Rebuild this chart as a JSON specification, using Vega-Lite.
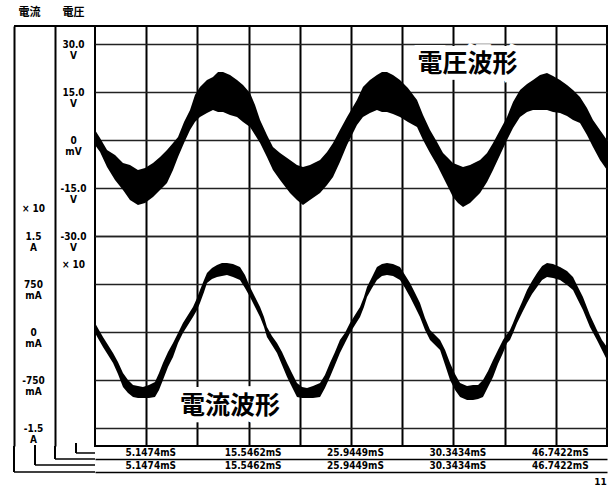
{
  "$schema": "https://vega.github.io/schema/vega-lite/v6.json",
  "width": 512,
  "height": 420,
  "autosize": "none",
  "padding": {"left": 95, "top": 26, "right": 3, "bottom": 42},
  "background": "white",
  "config": {
    "view": {"stroke": "#000", "strokeWidth": 2},
    "axis": {"labelColor": "#000", "titleColor": "#000", "labelFont": "Liberation Sans Narrow, DejaVu Sans Condensed, sans-serif", "labelFontWeight": "bold", "labelFontSize": 10}
  },
  "datasets": {
    "voltage": [
      {"t": -0.05, "hi": 3.13, "lo": -1.56},
      {"t": 0.46, "hi": 0.63, "lo": -3.75},
      {"t": 1.17, "hi": -3.13, "lo": -8.44},
      {"t": 1.98, "hi": -4.69, "lo": -12.5},
      {"t": 2.79, "hi": -7.19, "lo": -15.63},
      {"t": 3.5, "hi": -7.81, "lo": -18.75},
      {"t": 4.31, "hi": -9.38, "lo": -20.31},
      {"t": 5.03, "hi": -8.75, "lo": -19.69},
      {"t": 5.84, "hi": -7.19, "lo": -17.81},
      {"t": 6.55, "hi": -5.31, "lo": -15.63},
      {"t": 7.26, "hi": -3.13, "lo": -13.44},
      {"t": 7.87, "hi": -0.94, "lo": -9.38},
      {"t": 8.38, "hi": 0.94, "lo": -5.31},
      {"t": 8.99, "hi": 5.63, "lo": -0.94},
      {"t": 9.6, "hi": 9.38, "lo": 3.13},
      {"t": 10.1, "hi": 14.06, "lo": 5.63},
      {"t": 10.61, "hi": 16.56, "lo": 7.19},
      {"t": 11.32, "hi": 18.75, "lo": 8.44},
      {"t": 11.93, "hi": 19.69, "lo": 9.38},
      {"t": 12.44, "hi": 21.25, "lo": 8.75},
      {"t": 12.95, "hi": 21.25, "lo": 8.75},
      {"t": 13.66, "hi": 20.31, "lo": 7.81},
      {"t": 14.37, "hi": 18.75, "lo": 7.19},
      {"t": 14.98, "hi": 17.19, "lo": 5.63},
      {"t": 15.69, "hi": 14.69, "lo": 4.06},
      {"t": 16.2, "hi": 10.94, "lo": 1.56},
      {"t": 16.71, "hi": 6.25, "lo": -0.94},
      {"t": 17.41, "hi": 1.56, "lo": -5.31},
      {"t": 18.02, "hi": -2.19, "lo": -9.38},
      {"t": 18.74, "hi": -4.06, "lo": -12.5},
      {"t": 19.75, "hi": -6.25, "lo": -16.56},
      {"t": 20.46, "hi": -7.81, "lo": -18.75},
      {"t": 21.07, "hi": -8.44, "lo": -20.31},
      {"t": 21.78, "hi": -7.81, "lo": -18.75},
      {"t": 22.8, "hi": -6.25, "lo": -16.56},
      {"t": 23.51, "hi": -3.75, "lo": -14.06},
      {"t": 24.12, "hi": -0.94, "lo": -11.56},
      {"t": 24.82, "hi": 3.13, "lo": -6.88},
      {"t": 25.54, "hi": 7.19, "lo": -1.56},
      {"t": 26.55, "hi": 12.5, "lo": 4.69},
      {"t": 27.16, "hi": 16.56, "lo": 7.19},
      {"t": 27.87, "hi": 18.75, "lo": 8.44},
      {"t": 28.58, "hi": 20.31, "lo": 9.38},
      {"t": 29.09, "hi": 21.25, "lo": 8.75},
      {"t": 29.6, "hi": 21.25, "lo": 8.75},
      {"t": 30.21, "hi": 20.31, "lo": 8.13},
      {"t": 30.92, "hi": 18.75, "lo": 7.19},
      {"t": 31.73, "hi": 16.25, "lo": 5.63},
      {"t": 32.65, "hi": 12.5, "lo": 4.06},
      {"t": 33.26, "hi": 7.81, "lo": 0.0},
      {"t": 33.97, "hi": 3.13, "lo": -4.06},
      {"t": 34.68, "hi": -0.63, "lo": -7.81},
      {"t": 35.29, "hi": -4.06, "lo": -11.56},
      {"t": 35.8, "hi": -5.63, "lo": -14.69},
      {"t": 36.3, "hi": -7.19, "lo": -17.81},
      {"t": 36.81, "hi": -7.81, "lo": -19.69},
      {"t": 37.32, "hi": -8.44, "lo": -20.94},
      {"t": 38.03, "hi": -7.81, "lo": -19.69},
      {"t": 39.05, "hi": -6.25, "lo": -16.56},
      {"t": 39.76, "hi": -4.06, "lo": -13.13},
      {"t": 40.37, "hi": -0.94, "lo": -9.38},
      {"t": 41.08, "hi": 3.13, "lo": -4.69},
      {"t": 41.79, "hi": 7.19, "lo": 0.0},
      {"t": 42.4, "hi": 11.88, "lo": 3.75},
      {"t": 43.11, "hi": 15.63, "lo": 7.19},
      {"t": 43.82, "hi": 17.5, "lo": 8.75},
      {"t": 44.43, "hi": 18.75, "lo": 9.38},
      {"t": 45.14, "hi": 20.31, "lo": 9.38},
      {"t": 45.85, "hi": 20.94, "lo": 9.38},
      {"t": 46.46, "hi": 20.0, "lo": 8.75},
      {"t": 47.17, "hi": 18.75, "lo": 8.44},
      {"t": 47.88, "hi": 17.19, "lo": 7.5},
      {"t": 48.49, "hi": 15.63, "lo": 6.25},
      {"t": 49.2, "hi": 13.44, "lo": 5.31},
      {"t": 49.91, "hi": 10.0, "lo": 1.56},
      {"t": 50.52, "hi": 6.25, "lo": -2.19},
      {"t": 51.23, "hi": 3.13, "lo": -6.25},
      {"t": 51.94, "hi": 0.0, "lo": -9.38}
    ],
    "current": [
      {"t": -0.05, "hi": 0.141, "lo": -0.016},
      {"t": 0.35, "hi": 0.031, "lo": -0.125},
      {"t": 0.76, "hi": -0.078, "lo": -0.234},
      {"t": 1.27, "hi": -0.203, "lo": -0.359},
      {"t": 1.78, "hi": -0.328, "lo": -0.484},
      {"t": 2.28, "hi": -0.469, "lo": -0.656},
      {"t": 2.79, "hi": -0.641, "lo": -0.859},
      {"t": 3.3, "hi": -0.75, "lo": -0.953},
      {"t": 3.81, "hi": -0.828, "lo": -1.016},
      {"t": 4.31, "hi": -0.844, "lo": -1.031},
      {"t": 4.82, "hi": -0.859, "lo": -1.031},
      {"t": 5.43, "hi": -0.828, "lo": -1.031},
      {"t": 6.04, "hi": -0.781, "lo": -1.016},
      {"t": 6.45, "hi": -0.641, "lo": -0.906},
      {"t": 6.85, "hi": -0.484, "lo": -0.75},
      {"t": 7.36, "hi": -0.313, "lo": -0.547},
      {"t": 7.87, "hi": -0.172, "lo": -0.391},
      {"t": 8.38, "hi": -0.016, "lo": -0.172},
      {"t": 8.88, "hi": 0.141, "lo": -0.016},
      {"t": 9.39, "hi": 0.266, "lo": 0.109},
      {"t": 9.9, "hi": 0.391, "lo": 0.234},
      {"t": 10.31, "hi": 0.531, "lo": 0.344},
      {"t": 10.61, "hi": 0.656, "lo": 0.453},
      {"t": 11.02, "hi": 0.813, "lo": 0.625},
      {"t": 11.32, "hi": 0.922, "lo": 0.766},
      {"t": 11.83, "hi": 1.0, "lo": 0.828},
      {"t": 12.34, "hi": 1.047, "lo": 0.859},
      {"t": 12.84, "hi": 1.078, "lo": 0.875},
      {"t": 13.35, "hi": 1.078, "lo": 0.891},
      {"t": 13.96, "hi": 1.063, "lo": 0.859},
      {"t": 14.67, "hi": 1.016, "lo": 0.813},
      {"t": 15.18, "hi": 0.891, "lo": 0.688},
      {"t": 15.69, "hi": 0.703, "lo": 0.547},
      {"t": 16.2, "hi": 0.547, "lo": 0.391},
      {"t": 16.71, "hi": 0.391, "lo": 0.234},
      {"t": 17.11, "hi": 0.234, "lo": 0.078},
      {"t": 17.41, "hi": 0.078, "lo": -0.078},
      {"t": 17.92, "hi": -0.063, "lo": -0.203},
      {"t": 18.43, "hi": -0.172, "lo": -0.328},
      {"t": 18.94, "hi": -0.313, "lo": -0.516},
      {"t": 19.45, "hi": -0.484, "lo": -0.703},
      {"t": 19.95, "hi": -0.641, "lo": -0.859},
      {"t": 20.46, "hi": -0.797, "lo": -1.016},
      {"t": 20.97, "hi": -0.859, "lo": -1.031},
      {"t": 21.48, "hi": -0.875, "lo": -1.031},
      {"t": 22.09, "hi": -0.844, "lo": -1.031},
      {"t": 22.8, "hi": -0.797, "lo": -1.016},
      {"t": 23.3, "hi": -0.672, "lo": -0.875},
      {"t": 23.81, "hi": -0.484, "lo": -0.703},
      {"t": 24.32, "hi": -0.313, "lo": -0.516},
      {"t": 24.82, "hi": -0.125, "lo": -0.328},
      {"t": 25.33, "hi": -0.016, "lo": -0.172},
      {"t": 25.84, "hi": 0.141, "lo": -0.016},
      {"t": 26.35, "hi": 0.266, "lo": 0.109},
      {"t": 26.86, "hi": 0.391, "lo": 0.234},
      {"t": 27.26, "hi": 0.547, "lo": 0.391},
      {"t": 27.57, "hi": 0.703, "lo": 0.547},
      {"t": 28.08, "hi": 0.859, "lo": 0.688},
      {"t": 28.58, "hi": 1.016, "lo": 0.813},
      {"t": 29.09, "hi": 1.063, "lo": 0.875},
      {"t": 29.6, "hi": 1.078, "lo": 0.891},
      {"t": 30.21, "hi": 1.063, "lo": 0.875},
      {"t": 30.92, "hi": 1.016, "lo": 0.813},
      {"t": 31.43, "hi": 0.891, "lo": 0.688},
      {"t": 31.94, "hi": 0.766, "lo": 0.547},
      {"t": 32.45, "hi": 0.609, "lo": 0.391},
      {"t": 32.95, "hi": 0.453, "lo": 0.234},
      {"t": 33.46, "hi": 0.219, "lo": 0.031},
      {"t": 33.97, "hi": 0.031, "lo": -0.125},
      {"t": 34.48, "hi": -0.047, "lo": -0.203},
      {"t": 34.99, "hi": -0.125, "lo": -0.281},
      {"t": 35.5, "hi": -0.281, "lo": -0.516},
      {"t": 36.0, "hi": -0.484, "lo": -0.75},
      {"t": 36.51, "hi": -0.656, "lo": -0.906},
      {"t": 37.02, "hi": -0.797, "lo": -1.016},
      {"t": 37.73, "hi": -0.844, "lo": -1.063},
      {"t": 38.34, "hi": -0.828, "lo": -1.063},
      {"t": 38.85, "hi": -0.828, "lo": -1.047},
      {"t": 39.35, "hi": -0.75, "lo": -1.016},
      {"t": 39.86, "hi": -0.609, "lo": -0.859},
      {"t": 40.37, "hi": -0.438, "lo": -0.703},
      {"t": 40.87, "hi": -0.281, "lo": -0.5},
      {"t": 41.38, "hi": -0.125, "lo": -0.328},
      {"t": 41.79, "hi": -0.031, "lo": -0.172},
      {"t": 42.09, "hi": 0.031, "lo": -0.125},
      {"t": 42.4, "hi": 0.141, "lo": -0.016},
      {"t": 42.81, "hi": 0.297, "lo": 0.141},
      {"t": 43.31, "hi": 0.469, "lo": 0.297},
      {"t": 43.82, "hi": 0.656, "lo": 0.453},
      {"t": 44.33, "hi": 0.797, "lo": 0.594},
      {"t": 44.84, "hi": 0.922, "lo": 0.703},
      {"t": 45.35, "hi": 1.031, "lo": 0.813},
      {"t": 45.85, "hi": 1.078, "lo": 0.859},
      {"t": 46.46, "hi": 1.063, "lo": 0.844},
      {"t": 47.17, "hi": 1.016, "lo": 0.813},
      {"t": 47.88, "hi": 0.953, "lo": 0.734},
      {"t": 48.49, "hi": 0.859, "lo": 0.656},
      {"t": 48.99, "hi": 0.703, "lo": 0.5},
      {"t": 49.5, "hi": 0.547, "lo": 0.344},
      {"t": 50.21, "hi": 0.266, "lo": 0.078},
      {"t": 50.92, "hi": 0.031, "lo": -0.125},
      {"t": 51.43, "hi": -0.125, "lo": -0.281},
      {"t": 51.94, "hi": -0.234, "lo": -0.438}
    ]
  },
  "layer": [
    {
      "data": {"name": "voltage"},
      "mark": {"type": "area", "color": "#000", "opacity": 1},
      "encoding": {
        "x": {
          "field": "t", "type": "quantitative",
          "scale": {"domain": [-0.052, 51.942], "nice": false, "zero": false},
          "axis": {
            "orient": "bottom", "offset": 0,
            "values": [5.1474, 10.3468, 15.5462, 20.7456, 25.945, 31.1444, 36.3438, 41.5432, 46.7426],
            "grid": true, "gridColor": "#000", "gridWidth": 2, "gridOpacity": 1,
            "domain": false, "ticks": false, "tickSize": 0,
            "labelPadding": 1, "labelOffset": 4, "labelBaseline": "top",
            "labelExpr": "abs(datum.value-5.1474)<0.01 ? '5.1474mS' : abs(datum.value-15.5462)<0.01 ? '15.5462mS' : abs(datum.value-25.945)<0.01 ? '25.9449mS' : abs(datum.value-36.3438)<0.01 ? '30.3434mS' : abs(datum.value-46.7426)<0.01 ? '46.7422mS' : ''",
            "labelOverlap": false, "labelFlush": false, "labelBound": false,
            "title": null
          }
        },
        "y": {
          "field": "lo", "type": "quantitative",
          "scale": {"domain": [-95.625, 35.625], "nice": false, "zero": false},
          "axis": {
            "orient": "left", "offset": 0,
            "values": [30, 15, 0, -15, -30],
            "grid": true, "gridColor": "#222", "gridWidth": 1.5, "gridOpacity": 1,
            "domain": false, "ticks": false, "labels": false, "title": null
          }
        },
        "y2": {"field": "hi"}
      }
    },
    {
      "data": {"name": "current"},
      "mark": {"type": "area", "color": "#000", "opacity": 1},
      "encoding": {
        "x": {
          "field": "t", "type": "quantitative",
          "axis": {
            "orient": "bottom", "offset": 13,
            "values": [5.1474, 15.5462, 25.945, 36.3438, 46.7426],
            "grid": false, "domain": true, "domainColor": "#000", "domainWidth": 1.5,
            "ticks": false, "tickSize": 0,
            "labelPadding": 1, "labelOffset": 4, "labelBaseline": "top",
            "labelExpr": "abs(datum.value-5.1474)<0.01 ? '5.1474mS' : abs(datum.value-15.5462)<0.01 ? '15.5462mS' : abs(datum.value-25.945)<0.01 ? '25.9449mS' : abs(datum.value-36.3438)<0.01 ? '30.3434mS' : '46.7422mS'",
            "labelOverlap": false, "labelFlush": false, "labelBound": false,
            "title": null
          }
        },
        "y": {
          "field": "lo", "type": "quantitative",
          "scale": {"domain": [-1.78125, 4.78125], "nice": false, "zero": false},
          "axis": {
            "orient": "left", "offset": 0,
            "values": [1.5, 0.75, 0, -0.75, -1.5],
            "grid": true, "gridColor": "#222", "gridWidth": 1.5, "gridOpacity": 1,
            "domain": false, "ticks": false, "labels": false, "title": null
          }
        },
        "y2": {"field": "hi"}
      }
    },
    {
      "data": {"values": [{"label": "電圧波形", "t": 37.77, "v": 23.75}]},
      "layer": [
        {"mark": {"type": "text", "font": "Noto Sans CJK JP", "fontSize": 25, "fontWeight": "bold", "align": "center", "baseline": "middle", "color": "#fff", "stroke": "#fff", "strokeWidth": 12}},
        {"mark": {"type": "text", "font": "Noto Sans CJK JP", "fontSize": 25, "fontWeight": "bold", "align": "center", "baseline": "middle", "color": "#000"}}
      ],
      "encoding": {
        "x": {
          "field": "t", "type": "quantitative",
          "axis": {
            "orient": "bottom", "offset": 26, "grid": false, "labels": false, "ticks": false,
            "domain": true, "domainColor": "#000", "domainWidth": 1.5,
            "title": "11", "titleX": 505, "titleY": 9, "titleAngle": 0, "titleAlign": "center", "titleBaseline": "middle",
            "titleFontSize": 9, "titleFontWeight": "bold", "titleFont": "DejaVu Sans"
          }
        },
        "y": {
          "field": "v", "type": "quantitative",
          "scale": {"domain": [-95.625, 35.625], "nice": false, "zero": false},
          "axis": {
            "orient": "left", "offset": 40,
            "values": [30, 15, 0, -15, -30, -38.75],
            "grid": false,
            "domain": true, "domainColor": "#000", "domainWidth": 2,
            "ticks": false, "tickSize": 0,
            "labelAlign": "center", "labelBaseline": "middle", "labelPadding": -18, "labelLineHeight": 11,
            "labelExpr": "datum.value == 30 ? ['30.0', 'V'] : datum.value == 15 ? ['15.0', 'V'] : datum.value == 0 ? ['0', 'mV'] : datum.value == -15 ? ['-15.0', 'V'] : datum.value == -30 ? ['-30.0', 'V'] : '× 10'",
            "labelOverlap": false, "labelFlush": false, "labelBound": false,
            "title": "電圧", "titleAngle": 0, "titleAlign": "left", "titleBaseline": "middle",
            "titleX": 7, "titleY": -14, "titleFont": "Noto Sans CJK JP", "titleFontSize": 11, "titleFontWeight": "bold"
          }
        },
        "text": {"field": "label"}
      }
    },
    {
      "data": {"values": [{"label": "電流波形", "t": 13.66, "i": -1.156}]},
      "layer": [
        {"mark": {"type": "text", "font": "Noto Sans CJK JP", "fontSize": 25, "fontWeight": "bold", "align": "center", "baseline": "middle", "color": "#fff", "stroke": "#fff", "strokeWidth": 12}},
        {"mark": {"type": "text", "font": "Noto Sans CJK JP", "fontSize": 25, "fontWeight": "bold", "align": "center", "baseline": "middle", "color": "#000"}}
      ],
      "encoding": {
        "x": {"field": "t", "type": "quantitative", "axis": null},
        "y": {
          "field": "i", "type": "quantitative",
          "scale": {"domain": [-1.78125, 4.78125], "nice": false, "zero": false},
          "axis": {
            "orient": "left", "offset": 81,
            "values": [1.9375, 1.5, 0.75, 0, -0.75, -1.5],
            "grid": false,
            "domain": true, "domainColor": "#000", "domainWidth": 2,
            "ticks": false, "tickSize": 0,
            "labelAlign": "center", "labelBaseline": "middle", "labelPadding": -19, "labelLineHeight": 11,
            "labelExpr": "datum.value > 1.6 ? '× 10' : datum.value == 1.5 ? ['1.5', 'A'] : datum.value == 0.75 ? ['750', 'mA'] : datum.value == 0 ? ['0', 'mA'] : datum.value == -0.75 ? ['-750', 'mA'] : ['-1.5', 'A']",
            "labelOverlap": false, "labelFlush": false, "labelBound": false,
            "title": "電流", "titleAngle": 0, "titleAlign": "left", "titleBaseline": "middle",
            "titleX": 4, "titleY": -14, "titleFont": "Noto Sans CJK JP", "titleFontSize": 11, "titleFontWeight": "bold"
          }
        },
        "text": {"field": "label"}
      }
    },
    {
      "data": {"values": [{}]},
      "layer": [
        {"mark": {"type": "rule", "color": "#000", "strokeWidth": 2}, "encoding": {"x": {"datum": -8.277, "type": "quantitative", "scale": {"domain": [-0.052, 51.942], "nice": false, "zero": false}, "axis": null}, "x2": {"datum": -0.052}, "y": {"datum": 35.625, "type": "quantitative", "scale": {"domain": [-95.625, 35.625], "nice": false, "zero": false}, "axis": null}}},
        {"mark": {"type": "rule", "color": "#000", "strokeWidth": 1.5}, "encoding": {"x": {"datum": -8.277, "type": "quantitative", "scale": {"domain": [-0.052, 51.942], "nice": false, "zero": false}, "axis": null}, "x2": {"datum": -0.052}, "y": {"datum": -103.75, "type": "quantitative", "scale": {"domain": [-95.625, 35.625], "nice": false, "zero": false}, "axis": null}}},
        {"mark": {"type": "rule", "color": "#000", "strokeWidth": 1.5}, "encoding": {"x": {"datum": -4.114, "type": "quantitative", "scale": {"domain": [-0.052, 51.942], "nice": false, "zero": false}, "axis": null}, "x2": {"datum": -0.052}, "y": {"datum": -99.69, "type": "quantitative", "scale": {"domain": [-95.625, 35.625], "nice": false, "zero": false}, "axis": null}}},
        {"mark": {"type": "rule", "color": "#000", "strokeWidth": 2}, "encoding": {"x": {"datum": -8.277, "type": "quantitative", "scale": {"domain": [-0.052, 51.942], "nice": false, "zero": false}, "axis": null}, "y": {"datum": -95.625, "type": "quantitative", "scale": {"domain": [-95.625, 35.625], "nice": false, "zero": false}, "axis": null}, "y2": {"datum": -103.75}}},
        {"mark": {"type": "rule", "color": "#000", "strokeWidth": 2}, "encoding": {"x": {"datum": -4.114, "type": "quantitative", "scale": {"domain": [-0.052, 51.942], "nice": false, "zero": false}, "axis": null}, "y": {"datum": -95.625, "type": "quantitative", "scale": {"domain": [-95.625, 35.625], "nice": false, "zero": false}, "axis": null}, "y2": {"datum": -99.69}}},
        {"mark": {"type": "rule", "color": "#000", "strokeWidth": 2}, "encoding": {"x": {"datum": -1.981, "type": "quantitative", "scale": {"domain": [-0.052, 51.942], "nice": false, "zero": false}, "axis": null}, "y": {"datum": -94.69, "type": "quantitative", "scale": {"domain": [-95.625, 35.625], "nice": false, "zero": false}, "axis": null}, "y2": {"datum": -97.81}}},
        {"mark": {"type": "rule", "color": "#000", "strokeWidth": 1.5}, "encoding": {"x": {"datum": -1.981, "type": "quantitative", "scale": {"domain": [-0.052, 51.942], "nice": false, "zero": false}, "axis": null}, "x2": {"datum": -0.052}, "y": {"datum": -97.81, "type": "quantitative", "scale": {"domain": [-95.625, 35.625], "nice": false, "zero": false}, "axis": null}}},
        {"mark": {"type": "rule", "color": "#000", "strokeWidth": 2}, "encoding": {"x": {"datum": -6.145, "type": "quantitative", "scale": {"domain": [-0.052, 51.942], "nice": false, "zero": false}, "axis": null}, "y": {"datum": -95.31, "type": "quantitative", "scale": {"domain": [-95.625, 35.625], "nice": false, "zero": false}, "axis": null}, "y2": {"datum": -101.56}}},
        {"mark": {"type": "rule", "color": "#000", "strokeWidth": 1.5}, "encoding": {"x": {"datum": -6.145, "type": "quantitative", "scale": {"domain": [-0.052, 51.942], "nice": false, "zero": false}, "axis": null}, "x2": {"datum": -0.052}, "y": {"datum": -101.56, "type": "quantitative", "scale": {"domain": [-95.625, 35.625], "nice": false, "zero": false}, "axis": null}}}
      ]
    }
  ],
  "resolve": {"scale": {"y": "independent"}, "axis": {"x": "independent", "y": "independent"}}
}
